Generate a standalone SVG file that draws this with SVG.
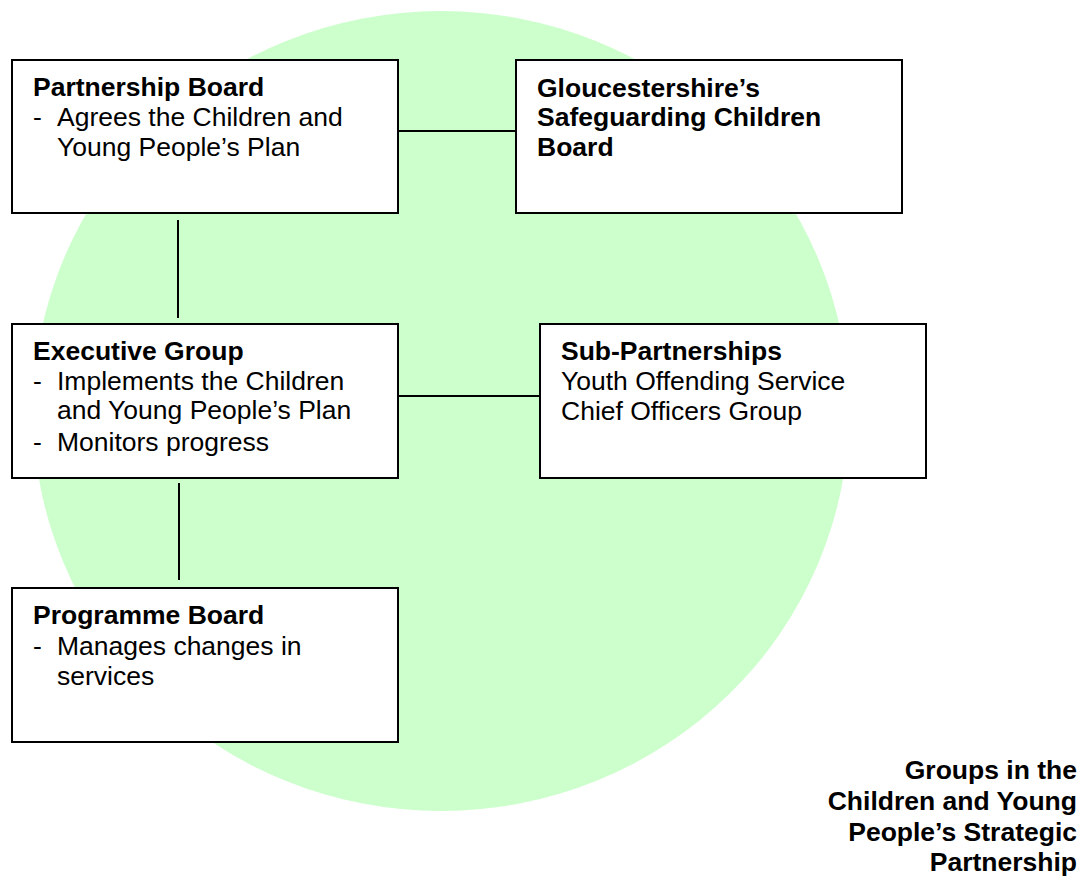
<svg xmlns="http://www.w3.org/2000/svg" width="1090" height="877" viewBox="0 0 1090 877">
<style>
.box{fill:#fff;stroke:#000;stroke-width:2}
.t{font-family:"Liberation Sans",Arial,sans-serif;font-size:26.5px;fill:#000}
.b{font-weight:bold}
.conn line{stroke:#000;stroke-width:2}
</style>
<rect width="1090" height="877" fill="#fff"/>
<ellipse id="bg" cx="441" cy="411" rx="408" ry="400" fill="#ccffcc"/>
<g class="conn">
<line x1="398" y1="131" x2="516" y2="131"/>
<line x1="398" y1="396" x2="540" y2="396"/>
<line x1="178" y1="220" x2="178" y2="318"/>
<line x1="179" y1="483" x2="179" y2="580"/>
</g>
<g id="partnership-board">
<rect class="box" x="12" y="60" width="386" height="153"/>
<text class="t b" x="33" y="96">Partnership Board</text>
<text class="t" x="33" y="126">-</text><text class="t" x="57" y="126">Agrees the Children and</text>
<text class="t" x="57" y="156">Young People’s Plan</text>
</g>
<g id="safeguarding-board">
<rect class="box" x="516" y="60" width="386" height="153"/>
<text class="t b" x="537" y="97">Gloucestershire’s</text>
<text class="t b" x="537" y="126">Safeguarding Children</text>
<text class="t b" x="537" y="156">Board</text>
</g>
<g id="executive-group">
<rect class="box" x="12" y="324" width="386" height="154"/>
<text class="t b" x="33" y="360">Executive Group</text>
<text class="t" x="33" y="390">-</text><text class="t" x="57" y="390">Implements the Children</text>
<text class="t" x="57" y="419">and Young People’s Plan</text>
<text class="t" x="33" y="451">-</text><text class="t" x="57" y="451">Monitors progress</text>
</g>
<g id="sub-partnerships">
<rect class="box" x="540" y="324" width="386" height="154"/>
<text class="t b" x="561" y="360">Sub-Partnerships</text>
<text class="t" x="561" y="390">Youth Offending Service</text>
<text class="t" x="561" y="420">Chief Officers Group</text>
</g>
<g id="programme-board">
<rect class="box" x="12" y="588" width="386" height="154"/>
<text class="t b" x="33" y="624">Programme Board</text>
<text class="t" x="33" y="655">-</text><text class="t" x="57" y="655">Manages changes in</text>
<text class="t" x="57" y="685">services</text>
</g>
<g id="title" class="t b" text-anchor="end">
<text x="1077" y="779">Groups in the</text>
<text x="1077" y="810">Children and Young</text>
<text x="1077" y="841">People’s Strategic</text>
<text x="1077" y="871">Partnership</text>
</g>
</svg>
